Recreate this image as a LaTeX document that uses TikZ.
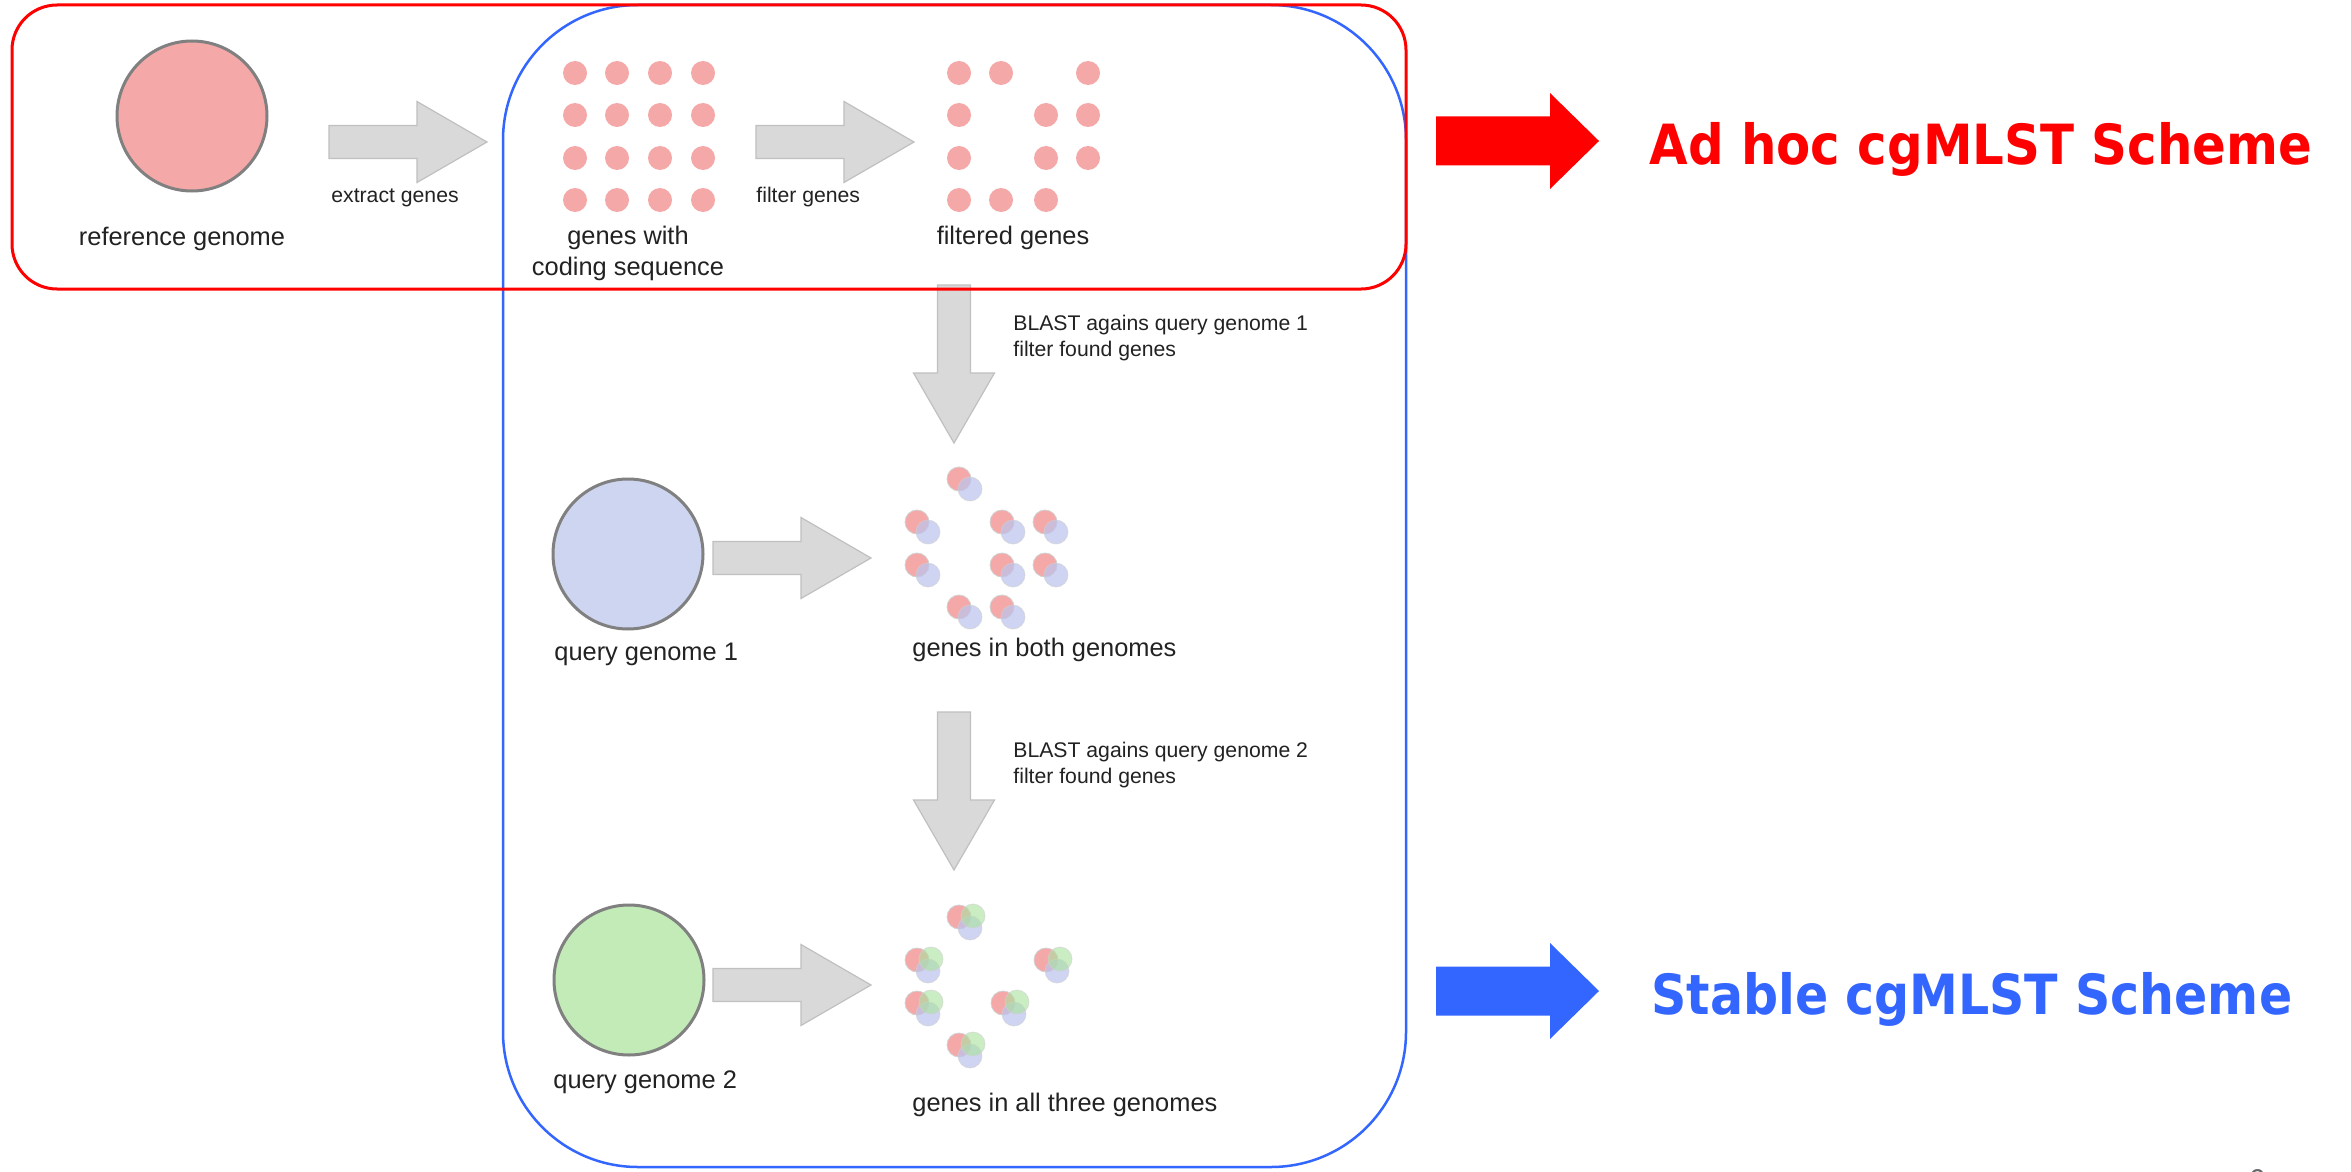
\documentclass[tikz,border=0pt]{standalone}
\usepackage{fontspec}
\usepackage{graphicx}
\setmainfont{Liberation Sans}
\newfontfamily\headfont{DejaVu Sans}
\definecolor{refpink}{RGB}{245,168,168}
\definecolor{qblue}{RGB}{205,213,240}
\definecolor{qgreen}{RGB}{194,235,184}
\definecolor{dotblue}{RGB}{188,196,236}
\definecolor{dotgreen}{RGB}{172,226,160}
\definecolor{arrowfill}{RGB}{217,217,217}
\definecolor{arrowborder}{RGB}{192,192,192}
\definecolor{mainred}{RGB}{255,0,0}
\definecolor{mainblue}{RGB}{51,102,255}
\definecolor{textgray}{RGB}{34,34,34}
\definecolor{ringgray}{RGB}{128,128,128}
\begin{document}
\begin{tikzpicture}[x=0.5pt,y=-0.5pt,
  genome/.style={circle,minimum size=75pt,inner sep=0pt,draw=ringgray,line width=1.5pt},
  bigtxt/.style={inner sep=0pt,text=textgray,font=\fontsize{12.7}{15}\selectfont},
  smalltxt/.style={inner sep=0pt,text=textgray,font=\fontsize{10.6}{13}\selectfont,align=left},
  headtxt/.style={inner sep=0pt,anchor=base west,font=\headfont\bfseries\fontsize{27.7}{30}\selectfont},
  grayarrow/.style={fill=arrowfill,draw=arrowborder,line width=0.6pt},
  blockarr/.pic={
    \path[pic actions] (0,-16.5) -- (88,-16.5) -- (88,-40.5) -- (158,0)
      -- (88,40.5) -- (88,16.5) -- (0,16.5) -- cycle;
  },
  bigarr/.pic={
    \path[pic actions] (0,-24.5) -- (114,-24.5) -- (114,-48) -- (163,0)
      -- (114,48) -- (114,24.5) -- (0,24.5) -- cycle;
  },
  reddot/.style={fill=refpink},
  reddotb/.style={fill=refpink,draw=black!18,line width=0.4pt},
  bluedot/.style={fill=dotblue,fill opacity=0.72,draw=black!18,draw opacity=0.6,line width=0.4pt},
  greendot/.style={fill=dotgreen,fill opacity=0.62,draw=black!18,draw opacity=0.6,line width=0.4pt}
]
\useasboundingbox (0,0) rectangle (2351,1172);
\fill[white] (0,0) rectangle (2351,1172);

% gray block arrows
\pic[grayarrow] (a1) at (329,142) {blockarr};
\pic[grayarrow] (a2) at (756,142) {blockarr};
\pic[grayarrow,rotate=-90] (a3) at (954,285) {blockarr};
\pic[grayarrow] (a4) at (713,558) {blockarr};
\pic[grayarrow,rotate=-90] (a5) at (954,712) {blockarr};
\pic[grayarrow] (a6) at (713,985) {blockarr};

% frames
\draw[mainblue,line width=1.25pt,rounded corners=67.5pt] (503,5) rectangle (1406,1167);
\draw[mainred,line width=1.5pt,rounded corners=22.5pt] (12,5) rectangle (1406,289);

% genomes
\node[genome,fill=refpink] (ref) at (192,116) {};
\node[genome,fill=qblue] (q1) at (628,554) {};
\node[genome,fill=qgreen] (q2) at (629,980) {};

% genes with coding sequence (4x4)
\foreach \x in {575,617,660,703}
  \foreach \y in {73,115,158,200}
    \fill[reddot] (\x,\y) circle[radius=12];

% filtered genes
\foreach \x/\y in {959/73,1001/73,1088/73,
                   959/115,1046/115,1088/115,
                   959/158,1046/158,1088/158,
                   959/200,1001/200,1046/200}
  \fill[reddot] (\x,\y) circle[radius=12];

% genes in both genomes
\foreach \x/\y in {959/479,917/522,1002/522,1045/522,917/565,1002/565,1045/565,959/607,1002/607}{
  \path[reddotb] (\x,\y) circle[radius=12];
  \path[bluedot] (\x+11,\y+10) circle[radius=12];
}

% genes in all three genomes
\foreach \x/\y in {959/917,917/960,1046/960,917/1003,1003/1003,959/1045}{
  \path[reddotb] (\x,\y) circle[radius=12];
  \path[bluedot] (\x+11,\y+11) circle[radius=12];
  \path[greendot] (\x+14,\y-1) circle[radius=12];
}

% labels
\node[bigtxt,anchor=base] (reflbl) at (182,245) {reference genome};
\node[smalltxt,anchor=base west] (exlbl) at (331,202) {extract genes};
\node[smalltxt,anchor=base west] (fillbl) at (756,202) {filter genes};
\node[bigtxt,anchor=base] (gw1) at (628,244) {genes with};
\node[bigtxt,anchor=base] (gw2) at (628,275) {coding sequence};
\node[bigtxt,anchor=base] (fg) at (1013,244) {filtered genes};
\node[smalltxt,anchor=base west] (b1a) at (1013,330) {BLAST agains query genome 1};
\node[smalltxt,anchor=base west] (b1b) at (1013,356) {filter found genes};
\node[bigtxt,anchor=base west] (q1lbl) at (554,660) {query genome 1};
\node[bigtxt,anchor=base west] (bothlbl) at (912,656) {genes in both genomes};
\node[smalltxt,anchor=base west] (b2a) at (1013,757) {BLAST agains query genome 2};
\node[smalltxt,anchor=base west] (b2b) at (1013,783) {filter found genes};
\node[bigtxt,anchor=base west] (q2lbl) at (553,1088) {query genome 2};
\node[bigtxt,anchor=base west] (alllbl) at (912,1111) {genes in all three genomes};

% scheme arrows and titles
\pic[fill=mainred] (ra) at (1436,141) {bigarr};
\pic[fill=mainblue] (ba) at (1436,991) {bigarr};
\node[headtxt,text=mainred] (adhoc) at (1649,164) {\scalebox{0.9}[1]{Ad hoc cgMLST Scheme}};
\node[headtxt,text=mainblue] (stable) at (1651,1014) {\scalebox{0.885}[1]{Stable cgMLST Scheme}};

% page number (cut off at the bottom edge, as in the reference)
\node[inner sep=0pt,anchor=base,text=black!60,font=\fontsize{15}{18}\selectfont] (pg) at (2257,1190) {6};
\end{tikzpicture}
\end{document}
